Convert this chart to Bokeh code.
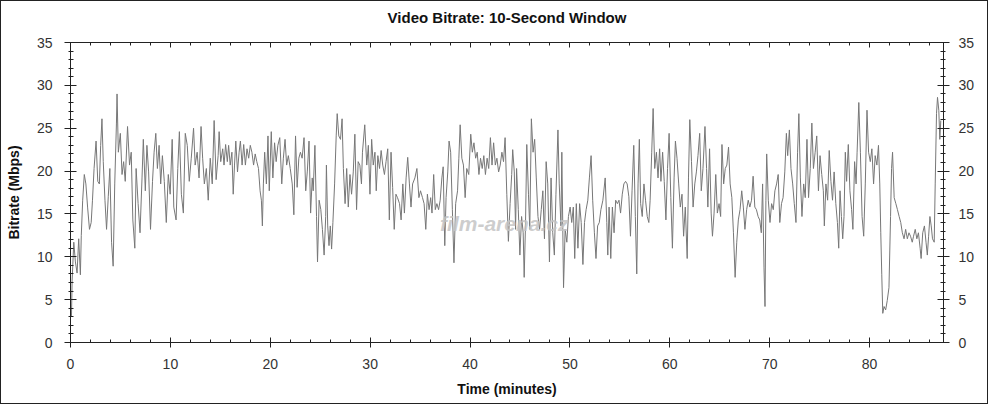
from bokeh.plotting import figure
from bokeh.models import (Range1d, LinearAxis, SingleIntervalTicker, Label)
from bokeh.embed import file_html
from bokeh.resources import INLINE

# ---- data: time (minutes) and bitrate (Mbps) ----
time_min = [
    0.1, 0.16, 0.33, 0.49, 0.66, 0.82, 0.99, 1.08, 1.22, 1.38, 1.54, 1.71, 1.9, 2.07, 2.2, 2.36, 2.56, 2.73, 2.89, 3.02,
    3.15, 3.28, 3.45, 3.61, 3.78, 3.94, 4.11, 4.27, 4.43, 4.6, 4.66, 4.79, 4.99, 5.16, 5.32, 5.48, 5.71, 5.91, 6.08, 6.24,
    6.44, 6.57, 6.77, 6.96, 7.16, 7.29, 7.49, 7.65, 7.82, 8.01, 8.21, 8.37, 8.54, 8.7, 8.87, 9.03, 9.2, 9.39, 9.59, 9.79,
    9.98, 10.18, 10.34, 10.57, 10.74, 10.9, 11.1, 11.3, 11.49, 11.69, 11.89, 12.09, 12.32, 12.48, 12.68, 12.87, 13.07,
    13.23, 13.4, 13.6, 13.79, 13.99, 14.19, 14.38, 14.58, 14.78,
    14.88, 15.04, 15.24, 15.37, 15.53, 15.7, 15.83, 15.99, 16.16, 16.29, 16.42, 16.55, 16.72, 16.88, 17.01, 17.18, 17.34,
    17.51, 17.67, 17.84, 18.0, 18.16, 18.33, 18.49, 18.65, 18.82, 18.98, 19.11, 19.21, 19.31, 19.44, 19.61, 19.77, 19.9,
    20.1, 20.26, 20.43, 20.59, 20.76, 20.95, 21.15, 21.31, 21.48, 21.64, 21.81, 22.0, 22.2, 22.36, 22.53, 22.69, 22.86,
    23.02, 23.19, 23.38, 23.55, 23.71, 23.88, 24.04, 24.2, 24.3, 24.47, 24.63, 24.73, 24.89, 25.06, 25.22, 25.39, 25.55,
    25.62, 25.75, 25.88, 26.01, 26.14, 26.27, 26.44, 26.6, 26.7, 26.86, 27.03, 27.19, 27.32, 27.49, 27.65, 27.81, 27.98,
    28.14, 28.31, 28.47, 28.64, 28.8, 28.97, 29.13,
    29.23, 29.46, 29.66, 29.82, 29.98, 30.15, 30.31, 30.48, 30.61, 30.77, 30.94, 31.1, 31.26, 31.43, 31.59, 31.76, 31.92,
    32.09, 32.25, 32.41, 32.58, 32.74, 32.94, 33.1, 33.27, 33.43, 33.6, 33.76, 33.93, 34.09, 34.25, 34.48, 34.68, 34.88,
    35.04, 35.24, 35.4, 35.57, 35.73, 35.9, 36.06, 36.19, 36.36, 36.52, 36.68, 36.85, 37.01, 37.18, 37.31, 37.47, 37.6,
    37.77, 37.9, 38.06, 38.23, 38.39, 38.56, 38.75, 38.88, 39.01, 39.18, 39.34, 39.51, 39.67, 39.87, 40.07, 40.23, 40.39,
    40.56, 40.72, 40.89, 41.05, 41.22, 41.38, 41.54, 41.71, 41.87, 42.04, 42.2, 42.36, 42.53, 42.69, 42.86, 43.02, 43.19,
    43.35, 43.51, 43.68, 43.84, 44.01, 44.17, 44.27,
    44.43, 44.56, 44.66, 44.83, 44.99, 45.16, 45.32, 45.42, 45.55, 45.68, 45.85, 45.98, 46.14, 46.31, 46.47, 46.63, 46.8,
    46.96, 47.13, 47.29, 47.45, 47.62, 47.78, 47.95, 48.11, 48.28, 48.44, 48.6, 48.8, 48.93, 49.1, 49.19, 49.36, 49.52,
    49.69, 49.85, 50.02, 50.18, 50.34, 50.48, 50.64, 50.8, 50.97, 51.13, 51.3, 51.46, 51.62, 51.79, 51.95, 52.12, 52.28,
    52.45, 52.61, 52.77, 52.94, 53.1, 53.3, 53.53, 53.69, 53.79, 53.92, 54.09, 54.25, 54.42, 54.58, 54.75, 54.91, 55.07,
    55.24, 55.4, 55.57, 55.73, 55.9, 56.06, 56.22, 56.39, 56.55, 56.69, 56.82, 56.95, 57.08, 57.24, 57.41, 57.57, 57.74,
    57.9, 58.03, 58.19, 58.33, 58.49, 58.66, 58.82, 58.98,
    59.11, 59.28, 59.44, 59.61, 59.77, 59.93, 60.1, 60.26, 60.43, 60.56, 60.72, 60.89, 61.05, 61.22, 61.38, 61.55, 61.74,
    61.87, 62.0, 62.17, 62.33, 62.5, 62.66, 62.82, 62.99, 63.15, 63.32, 63.52, 63.68, 63.81, 63.98, 64.14, 64.27, 64.43,
    64.6, 64.76, 64.93, 65.09, 65.22, 65.39, 65.55, 65.71, 65.88, 66.04, 66.21, 66.37, 66.54, 66.7, 66.86, 67.03, 67.2,
    67.36, 67.52, 67.69, 67.85, 68.01, 68.18, 68.34, 68.51, 68.67, 68.84, 69.0, 69.16, 69.29, 69.43, 69.53, 69.62, 69.7,
    69.86, 70.03, 70.19, 70.36, 70.52, 70.69, 70.85, 71.01, 71.18, 71.34, 71.51, 71.67, 71.8, 71.97, 72.13, 72.3, 72.46,
    72.63, 72.79, 72.92,
    73.07, 73.23, 73.4, 73.56, 73.73, 73.89, 74.06, 74.22, 74.38, 74.55, 74.71, 74.88, 75.04, 75.21, 75.37, 75.47, 75.63,
    75.8, 75.96, 76.13, 76.29, 76.45, 76.62, 76.78, 76.91, 77.04, 77.18, 77.31, 77.44, 77.57, 77.7, 77.87, 78.03, 78.2,
    78.33, 78.5, 78.65, 78.75, 78.92, 79.08, 79.25, 79.41, 79.57, 79.74, 79.9, 80.07, 80.23, 80.4, 80.56, 80.73, 80.89,
    81.02, 81.12, 81.22, 81.32, 81.45, 81.61, 81.77, 81.94, 82.1, 82.2, 82.3, 82.46, 82.63, 82.79, 82.96, 83.12, 83.28,
    83.45, 83.61, 83.78, 83.94, 84.1, 84.27, 84.4, 84.57, 84.73, 84.89, 85.06, 85.16, 85.32, 85.49, 85.65, 85.78, 85.91,
    86.04, 86.17, 86.3, 86.47, 86.57, 86.7, 86.8, 86.93, 87.03, 87.13,
]

bitrate_mbps = [
    3.1, 7.2, 11.7, 9.4, 8.1, 12.1, 7.9, 12.5, 16.6, 19.6, 18.5, 15.8, 13.2, 14.0, 16.6, 20.3, 23.5, 18.8, 18.5, 23.0,
    26.1, 21.1, 16.6, 13.2, 17.0, 20.3, 11.7, 8.9, 18.5, 25.6, 29.0, 22.2, 24.4, 19.6, 21.1, 18.8, 25.2, 20.7, 22.2, 14.3,
    11.0, 20.3, 16.2, 12.8, 19.2, 23.7, 17.7, 23.0, 19.9, 13.2, 18.8, 22.2, 24.4, 20.3, 23.0, 18.5, 21.8, 18.8, 14.0, 19.6,
    17.3, 23.7, 15.8, 14.3, 20.3, 24.6, 17.3, 15.1, 24.4, 23.0, 18.8, 21.5, 25.0, 20.7, 22.2, 19.2, 25.2,
    21.5, 18.5, 20.3, 16.6, 21.5, 18.5, 25.9, 19.0, 21.8,
    24.6, 21.1, 22.6, 20.7, 23.1, 21.1, 23.0, 20.7, 22.2, 17.3, 20.7, 23.5, 19.9, 22.2, 23.5, 20.7, 23.1,
    20.7, 22.6, 21.5, 23.0, 22.2, 20.7, 22.0, 21.1, 20.3, 17.7, 16.6, 13.6, 18.5, 22.2, 18.5, 24.1, 17.7,
    24.6, 19.2, 23.3, 21.1, 23.0, 23.9, 18.5, 21.5, 23.7, 20.7, 21.8, 20.3, 18.5, 14.9, 24.1, 18.1, 21.5,
    22.2, 21.5, 23.9, 17.7, 20.0, 23.5, 15.1, 19.2, 17.7, 23.0, 14.7, 9.4, 16.6, 15.5, 13.2, 10.2, 14.7,
    20.7, 13.6, 11.3, 13.6, 10.9, 14.0, 18.5, 24.1, 26.7, 24.1, 23.7, 26.1, 20.3, 16.2, 20.3, 15.8, 19.6,
    17.3, 19.9, 24.3, 15.5, 21.1, 20.7, 18.5,
    22.2, 25.4, 20.7, 23.0, 17.3, 23.7, 20.7, 22.2, 17.7, 21.8, 20.3, 22.4, 20.7, 19.6, 21.1, 22.6, 14.3,
    22.2, 18.1, 13.2, 17.3, 16.9, 16.2, 14.3, 18.5, 15.1, 19.2, 21.6, 18.5, 15.8, 18.5, 19.2, 20.3, 16.9,
    17.7, 16.9, 16.2, 13.2, 17.3, 15.5, 16.9, 15.1, 19.6, 15.5, 16.2, 15.5, 16.6, 19.2, 20.5, 11.3, 16.9,
    19.9, 23.5, 22.2, 15.5, 9.3, 16.2, 17.7, 21.5, 25.4, 21.5, 20.7, 16.9, 20.3, 19.6, 24.3, 22.2, 23.3,
    21.5, 22.2, 19.6, 21.5, 20.3, 21.8, 19.6, 21.5, 20.3, 23.9, 20.7, 23.3, 20.7, 21.5, 19.9, 20.7, 22.2,
    21.1, 23.9, 17.3, 11.8, 16.2, 19.6, 22.5,
    19.9, 13.2, 20.3, 15.5, 10.2, 14.7, 12.8, 7.6, 13.6, 23.1, 17.3, 13.2, 26.1, 22.2, 23.7, 19.2, 14.7,
    13.2, 15.5, 17.7, 12.1, 21.1, 18.5, 9.4, 19.2, 12.8, 10.2, 17.3, 24.8, 18.5, 13.6, 22.2, 6.4, 13.2,
    11.7, 14.7, 15.8, 14.0, 15.8, 9.8, 16.2, 11.0, 16.2, 14.0, 9.1, 14.0, 15.5, 16.6, 19.2, 21.8, 16.6,
    12.8, 9.8, 13.6, 14.0, 15.5, 16.6, 19.2, 14.0, 10.2, 15.8, 9.8, 15.8, 12.8, 16.6, 16.2, 16.6, 15.1,
    17.3, 18.5, 18.8, 18.5, 17.0, 12.4, 17.7, 23.0, 14.7, 8.0, 18.5, 23.7, 16.2, 14.7, 18.5, 16.6, 14.7,
    14.0, 16.6, 22.2, 27.3, 20.3, 22.2, 19.2, 22.6,
    18.8, 22.2, 18.8, 14.3, 20.3, 24.4, 16.9, 11.0, 19.2, 23.5, 21.5, 18.5, 15.8, 17.3, 12.4, 15.8, 9.8,
    19.2, 26.0, 21.1, 15.8, 18.5, 19.9, 21.8, 24.4, 17.7, 20.3, 25.2, 20.3, 15.8, 22.6, 15.1, 12.4, 15.1,
    19.6, 15.1, 16.2, 14.7, 23.1, 18.5, 20.3, 20.7, 22.8, 18.5, 16.9, 12.8, 7.6, 11.7, 14.3, 15.5, 17.7,
    15.8, 13.2, 15.5, 16.6, 15.8, 16.6, 19.4, 15.8, 15.5, 14.7, 14.3, 12.8, 18.5, 8.7, 4.2, 16.6, 22.0,
    16.6, 14.0, 16.2, 15.5, 17.7, 18.5, 19.6, 14.0, 16.2, 16.9, 19.9, 24.4, 21.8, 24.8, 20.3, 18.5, 16.2,
    14.0, 22.2, 26.7,
    19.2, 14.7, 18.5, 16.9, 23.7, 16.9, 20.3, 25.6, 20.3, 22.2, 24.1, 17.7, 21.8, 19.6, 17.7, 13.6, 18.5,
    16.6, 22.4, 18.8, 16.6, 19.9, 16.2, 14.0, 11.0, 17.7, 14.7, 12.1, 14.7, 22.2, 18.8, 23.1, 17.7, 15.5,
    13.2, 21.1, 18.5, 22.2, 28.0, 22.2, 14.7, 12.4, 18.5, 27.1, 22.2, 21.1, 22.6, 18.5, 21.8, 20.7, 23.0,
    18.5, 12.8, 7.9, 3.4, 4.2, 3.8, 4.9, 6.4, 14.7, 20.3, 22.2, 16.9, 16.2, 15.5, 14.7, 14.0, 12.8,
    12.1, 13.2, 12.1, 12.8, 12.4, 11.7, 12.4, 13.2, 12.1, 12.8, 11.0, 9.8, 12.8, 13.6, 11.7, 10.2, 12.4,
    14.7, 13.6, 12.1, 11.7, 18.5, 26.7, 28.6, 27.1, 23.7, 25.9,
]

x_ticks_major = [0, 10, 20, 30, 40, 50, 60, 70, 80]
y_ticks_major = [0, 5, 10, 15, 20, 25, 30, 35]

title_text = "Video Bitrate: 10-Second Window"
x_label = "Time (minutes)"
y_label = "Bitrate (Mbps)"
watermark = "film-arena.cz"

FONT = "Liberation Sans"
LABEL_COLOR = "#333333"

p = figure(width=988, height=404, output_backend="svg", toolbar_location=None,
           x_range=Range1d(0, 87.4), y_range=Range1d(0, 35),
           min_border_left=69, min_border_right=46, min_border_top=41, min_border_bottom=63,
           background_fill_color="white", border_fill_color="white")

p.title.text = title_text
p.title.align = "center"
p.title.text_font = FONT
p.title.text_font_size = "15px"
p.title.text_font_style = "bold"
p.title.text_color = "#111111"

p.grid.visible = False
p.outline_line_color = None

def style_axis(ax, tin, tout, mtin, mtout):
    ax.axis_line_color = "#222222"
    ax.axis_line_width = 1
    ax.major_tick_line_color = "#222222"
    ax.minor_tick_line_color = "#222222"
    ax.major_tick_in = tin
    ax.major_tick_out = tout
    ax.minor_tick_in = mtin
    ax.minor_tick_out = mtout
    ax.major_label_text_font = FONT
    ax.major_label_text_font_size = "14px"
    ax.major_label_text_color = LABEL_COLOR
    ax.axis_label_text_font = FONT
    ax.axis_label_text_font_size = "14px"
    ax.axis_label_text_font_style = "bold"
    ax.axis_label_text_color = "#111111"

xt = SingleIntervalTicker(interval=10, num_minor_ticks=5)
yt = SingleIntervalTicker(interval=5, num_minor_ticks=5)

# bottom axis
p.xaxis.ticker = xt
p.xaxis.axis_label = x_label
style_axis(p.xaxis[0], 5, 5, 3, 0)
p.xaxis.major_label_standoff = 11
p.xaxis.axis_label_standoff = 9

# left axis
p.yaxis.ticker = yt
p.yaxis.axis_label = y_label
style_axis(p.yaxis[0], 6, 6, 3, 2)
p.yaxis.major_label_standoff = 12
p.yaxis.axis_label_standoff = 12

# right axis
ry = LinearAxis(ticker=SingleIntervalTicker(interval=5, num_minor_ticks=5))
style_axis(ry, 6, 6, 3, 2)
ry.major_label_standoff = 9
p.add_layout(ry, "right")

# top axis (ticks only; blank labels reserve a little room so the title sits higher)
tx = LinearAxis(ticker=SingleIntervalTicker(interval=10, num_minor_ticks=5))
style_axis(tx, 5, 0, 3, 0)
tx.major_label_overrides = {v: " " for v in x_ticks_major}
tx.major_label_text_font_size = "8px"
tx.major_label_standoff = 0
p.add_layout(tx, "above")

# watermark
p.add_layout(Label(x=37.0, y=12.6, text=watermark, text_font=FONT, text_font_size="21px",
                   text_font_style="bold italic", text_color="#c4c4c4", text_alpha=0.85))

p.line(time_min, bitrate_mbps, line_color="#777777", line_width=1)

p.styles = {"border": "1px solid #222222"}

open("out.html", "w").write(file_html(p, INLINE))
